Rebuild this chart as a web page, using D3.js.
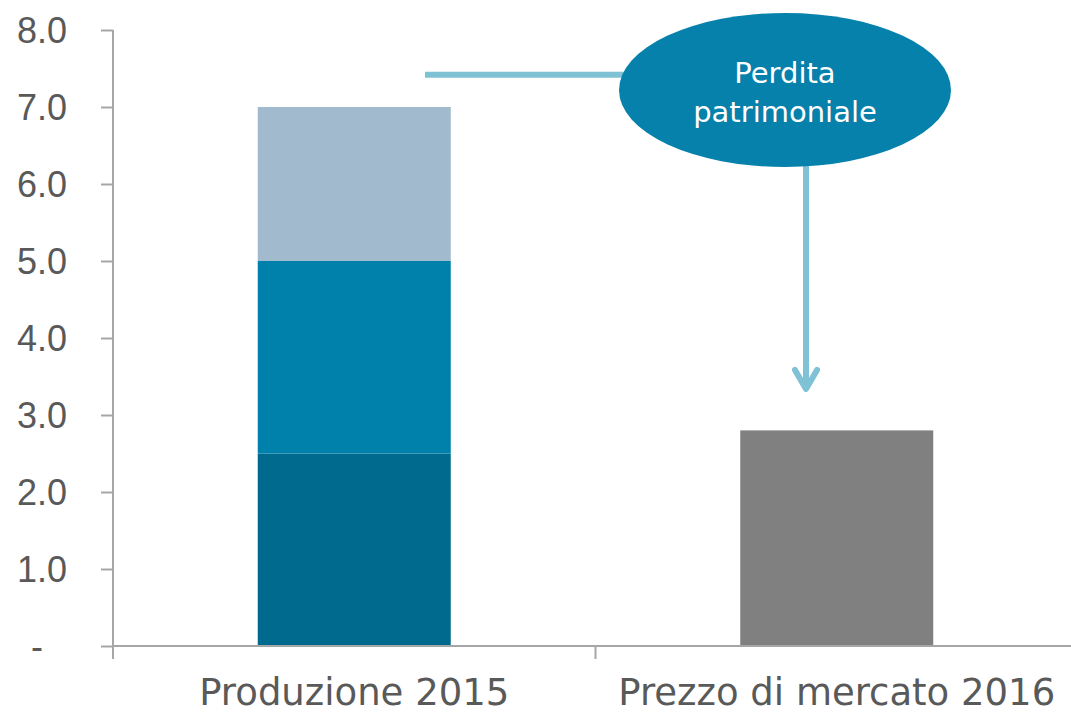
<!DOCTYPE html>
<html>
<head>
<meta charset="utf-8">
<script src="https://cdn.jsdelivr.net/npm/d3@7"></script>
<style>
  body { margin: 0; background: #fff; }
  svg { display: block; font-family: "DejaVu Sans", sans-serif; }
</style>
</head>
<body>
<svg id="chart" width="1071" height="716"></svg>
<script>
// data
const categories = ['Produzione 2015', 'Prezzo di mercato 2016'];
const segmentsProduzione = [2.5, 2.5, 2.0];
const segmentsPrezzo = [2.8];
const segmentColors = ['#006a8e', '#0081ac', '#a1bacd'];
const prezzoColor = '#808080';
const yTicks = [0, 1, 2, 3, 4, 5, 6, 7, 8];
const bubbleLines = ['Perdita', 'patrimoniale'];

const svg = d3.select('#chart');
const margin = {top: 30, right: -7, bottom: 70, left: 113};
const width = +svg.attr('width') - margin.left - margin.right;
const height = +svg.attr('height') - margin.top - margin.bottom;

const x = d3.scaleBand()
  .domain(categories)
  .range([margin.left, margin.left + width])
  .paddingInner(0.6)
  .paddingOuter(0.3);

const y = d3.scaleLinear()
  .domain([0, 8])
  .range([margin.top + height, margin.top]);

const axisColor = '#a6a6a6';
const textColor = '#595959';

// stacked bar for 2015
let acc = 0;
const stack = segmentsProduzione.map((v, i) => {
  const s = {y0: acc, y1: acc + v, color: segmentColors[i]};
  acc += v;
  return s;
});

svg.append('g').selectAll('rect')
  .data(stack)
  .enter().append('rect')
  .attr('x', x(categories[0]))
  .attr('width', x.bandwidth())
  .attr('y', d => y(d.y1))
  .attr('height', d => y(d.y0) - y(d.y1))
  .attr('fill', d => d.color);

svg.append('g').selectAll('rect')
  .data(segmentsPrezzo)
  .enter().append('rect')
  .attr('x', x(categories[1]))
  .attr('width', x.bandwidth())
  .attr('y', d => y(d))
  .attr('height', d => y(0) - y(d))
  .attr('fill', prezzoColor);

// y axis
const yAxis = svg.append('g')
  .attr('transform', `translate(${margin.left},0)`)
  .call(d3.axisLeft(y).tickValues(yTicks).tickSize(12).tickPadding(34)
    .tickFormat(d => d === 0 ? '-' : d.toFixed(1)));
yAxis.selectAll('path, line').attr('stroke', axisColor).attr('stroke-width', 2);
yAxis.select('.domain').attr('d', `M0,${y(8)}V${y(0)}`);
yAxis.selectAll('text')
  .attr('fill', textColor)
  .style('font-size', '36px')
  .attr('dy', '0.36em');
yAxis.selectAll('.tick').filter(d => d === 0).select('text').attr('dx', -24);

// x axis
const xBounds = [margin.left, margin.left + x.step(), margin.left + 2 * x.step()];
const xAxis = svg.append('g');
xAxis.append('line')
  .attr('x1', margin.left).attr('x2', margin.left + width)
  .attr('y1', y(0)).attr('y2', y(0))
  .attr('stroke', axisColor).attr('stroke-width', 2);
xAxis.selectAll('.xtick')
  .data(xBounds)
  .enter().append('line')
  .attr('x1', d => d).attr('x2', d => d)
  .attr('y1', y(0)).attr('y2', y(0) + 13)
  .attr('stroke', axisColor).attr('stroke-width', 2);
xAxis.selectAll('.xlabel')
  .data(categories)
  .enter().append('text')
  .attr('x', d => x(d) + x.bandwidth() / 2)
  .attr('y', 705)
  .attr('text-anchor', 'middle')
  .attr('fill', textColor)
  .style('font-size', '37px')
  .text(d => d);

// annotation
const lineColor = '#80c2d5';
const bubble = {cx: 785, cy: 90, rx: 166, ry: 77};
const arrowX = 806;
const arrowTip = y(3.3);

svg.append('line')
  .attr('x1', 425).attr('x2', bubble.cx)
  .attr('y1', y(7.42)).attr('y2', y(7.42))
  .attr('stroke', lineColor).attr('stroke-width', 6);

svg.append('line')
  .attr('x1', arrowX).attr('x2', arrowX)
  .attr('y1', bubble.cy).attr('y2', arrowTip - 2)
  .attr('stroke', lineColor).attr('stroke-width', 6);
svg.append('path')
  .attr('d', `M${arrowX - 11},${arrowTip - 22}L${arrowX},${arrowTip - 3}L${arrowX + 11},${arrowTip - 22}`)
  .attr('fill', 'none')
  .attr('stroke', lineColor)
  .attr('stroke-width', 6)
  .attr('stroke-linecap', 'round')
  .attr('stroke-linejoin', 'round');

svg.append('ellipse')
  .attr('cx', bubble.cx).attr('cy', bubble.cy)
  .attr('rx', bubble.rx).attr('ry', bubble.ry)
  .attr('fill', '#0581ab');

svg.append('g').selectAll('text')
  .data(bubbleLines)
  .enter().append('text')
  .attr('x', bubble.cx)
  .attr('y', (d, i) => 83 + i * 39)
  .attr('text-anchor', 'middle')
  .attr('fill', '#fff')
  .style('font-size', '29px')
  .text(d => d);
</script>
</body>
</html>
